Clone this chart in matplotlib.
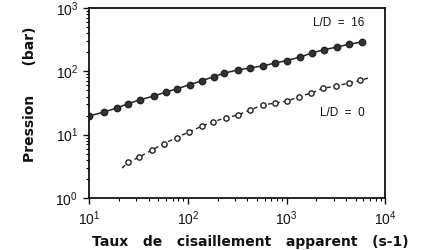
import matplotlib
matplotlib.use("Agg")
import matplotlib.pyplot as plt

plt.rcParams['font.family'] = ['Liberation Sans', 'DejaVu Sans']
plt.rcParams['mathtext.default'] = 'regular'

# L/D = 16 (filled circles)
shear_16 = [10, 14, 19, 25, 33, 45, 60, 78, 104, 138, 182, 235, 320, 425,
            575, 760, 1000, 1380, 1800, 2400, 3250, 4300, 5750]
press_16 = [19.7, 22.7, 26.3, 31.0, 35.6, 40.7, 47.1, 53.1, 61.4, 71, 82, 94,
            105, 113, 122, 135, 148, 168, 195, 220, 242, 268, 290]

# L/D = 0 (open circles)
shear_0 = [25, 32, 43, 57, 77, 102, 140, 180, 245, 320, 425, 575, 760, 1020,
           1350, 1780, 2350, 3200, 4250, 5600]
press_0 = [3.7, 4.4, 5.7, 7.2, 9.0, 11.0, 13.7, 16.0, 18.5, 20.4, 24.5, 29.5,
           31.5, 34.0, 40.0, 45.4, 54.0, 58.6, 65.3, 72]

# ends of the dashed curve drawn past the first and last open points
dash_start = (21.6, 2.97)
dash_end = (7200, 81)

fig = plt.figure(figsize=(4.48, 2.5), dpi=100)
ax = fig.add_axes([0.199, 0.208, 0.661, 0.76])

ax.plot(shear_16, press_16, '-', color='#222222', lw=1.1,
        marker='o', markersize=4.6, markerfacecolor='#333333',
        markeredgecolor='#222222')

dash_x = [dash_start[0]] + shear_0 + [dash_end[0]]
dash_y = [dash_start[1]] + press_0 + [dash_end[1]]
ax.plot(dash_x, dash_y, '-', color='#222222', lw=1.0, dashes=(3, 2.5))
ax.plot(shear_0, press_0, 'o', markersize=3.8, markerfacecolor='white',
        markeredgecolor='#222222', markeredgewidth=1.0)

ax.set_xscale('log')
ax.set_yscale('log')
ax.set_xlim(10, 1e4)
ax.set_ylim(1, 1e3)

for s in ax.spines.values():
    s.set_linewidth(1.3)
    s.set_color('#111111')

ax.tick_params(which='major', direction='out', length=4, width=1.0,
               labelsize=10, colors='#111111', pad=4)
ax.tick_params(which='minor', direction='out', length=2.5, width=0.8)

ax.text(0.93, 0.92, 'L/D  =  16', transform=ax.transAxes, ha='right',
        va='center', fontsize=8.5, color='#111111')
ax.text(0.93, 0.445, 'L/D  =  0', transform=ax.transAxes, ha='right',
        va='center', fontsize=8.5, color='#111111')

ax.set_xlabel('Taux   de   cisaillement   apparent   (s-1)', fontsize=10,
              fontweight='bold', color='#111111', family='DejaVu Sans',
              va='center')
ax.xaxis.set_label_coords(0.544, -0.23)
ax.set_ylabel('Pression      (bar)', fontsize=10, fontweight='bold',
              color='#111111', family='DejaVu Sans', va='center')
ax.yaxis.set_label_coords(-0.2, 0.547)

fig.savefig('out.png', dpi=100, facecolor='white')
